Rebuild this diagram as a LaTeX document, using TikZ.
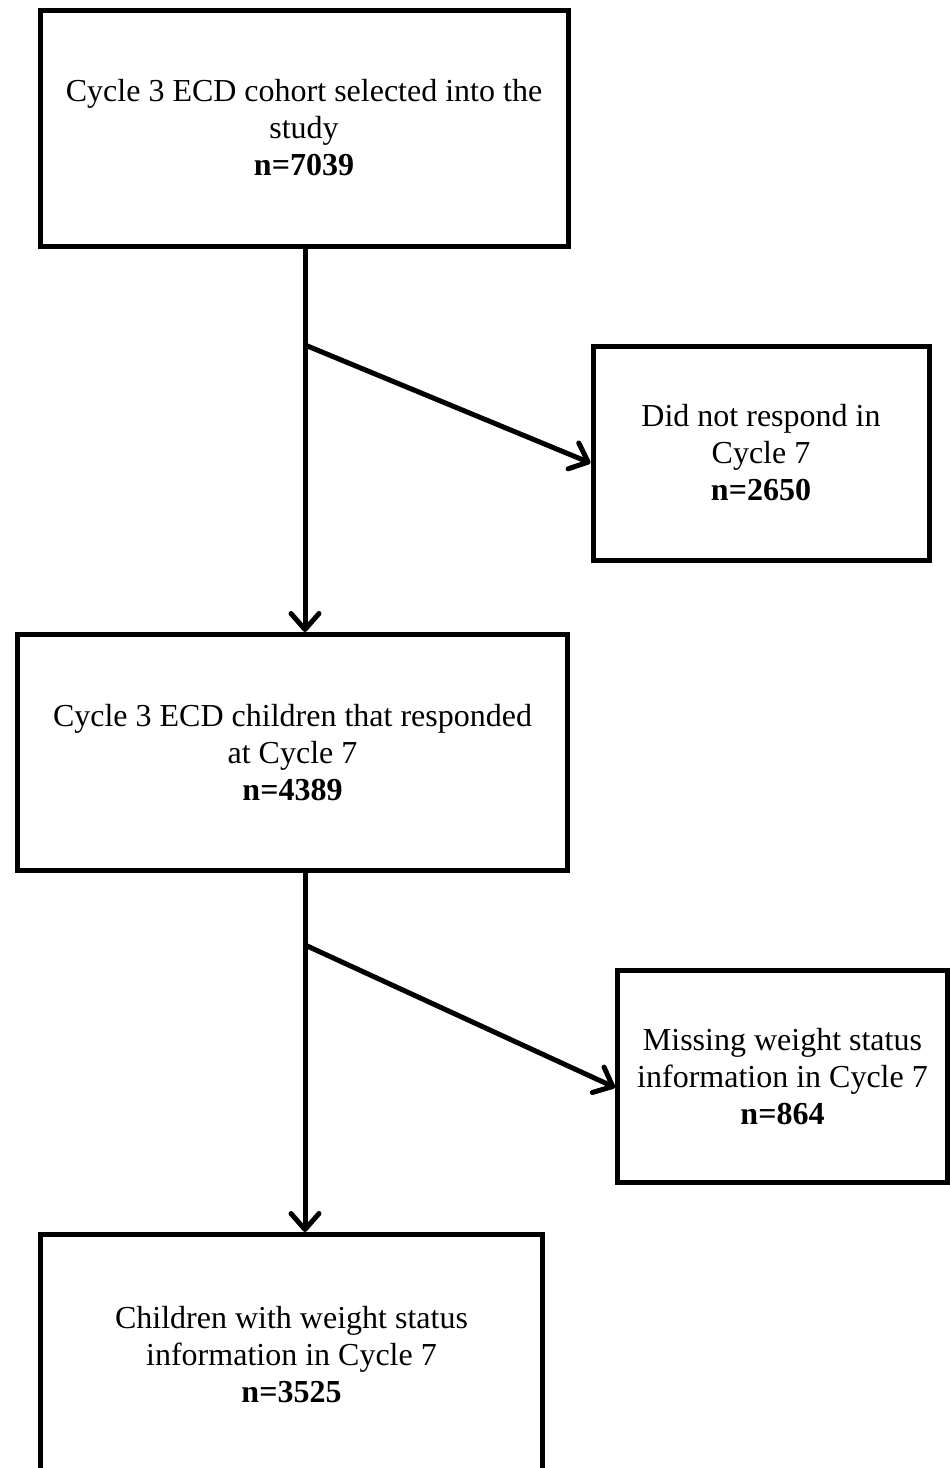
\documentclass[tikz,border=0pt]{standalone}
\usepackage{fontspec}
\setmainfont{Liberation Serif}
\usetikzlibrary{arrows.meta}
\begin{document}
\begin{tikzpicture}[x=1pt,y=1pt,
  box/.style={draw=black, line width=5pt, fill=white, align=center, inner sep=0pt,
    font=\fontsize{32}{37}\selectfont},
  conn/.style={line width=5pt, draw=black},
  arr/.style={conn, -{Straight Barb[length=16pt,width=28pt,line width=5pt,round]}}]
\clip (0,0) rectangle (950,-1468);
\fill[white] (0,0) rectangle (950,-1468);
\node[box, minimum width=528pt, minimum height=236pt] (b1) at (304,-128)
  {Cycle 3 ECD cohort selected into the\\study\\\textbf{n=7039}};
\node[box, minimum width=336pt, minimum height=214pt] (b2) at (761,-453)
  {Did not respond in\\Cycle 7\\\textbf{n=2650}};
\node[box, minimum width=550pt, minimum height=236pt] (b3) at (292.5,-752.5)
  {Cycle 3 ECD children that responded\\at Cycle 7\\\textbf{n=4389}};
\node[box, minimum width=330pt, minimum height=212pt] (b4) at (782.5,-1076.5)
  {Missing weight status\\information in Cycle 7\\\textbf{n=864}};
\node[box, minimum width=502pt, minimum height=240pt] (b5) at (291.5,-1354.5)
  {Children with weight status\\information in Cycle 7\\\textbf{n=3525}};
\coordinate (j1) at (305,-345);
\coordinate (j2) at (305,-945);
\draw[arr] (b1.south -| j1) -- (b3.north -| j1);
\draw[arr] (j1) -- ([yshift=-10pt]b2.west);
\draw[arr] (b3.south -| j2) -- (b5.north -| j2);
\draw[arr] (j2) -- ([yshift=-11pt]b4.west);
\end{tikzpicture}
\end{document}
